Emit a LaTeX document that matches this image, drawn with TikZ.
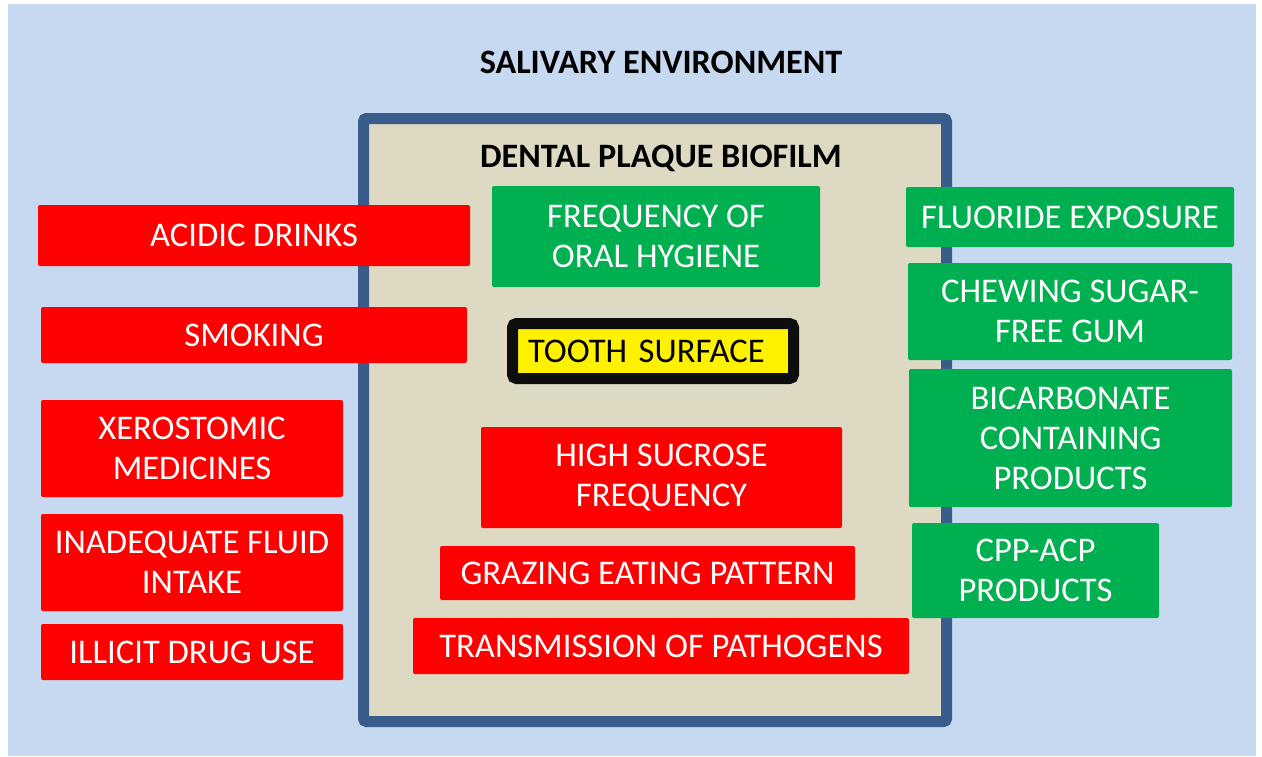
\documentclass[tikz,border=0pt]{standalone}
\usepackage{fontspec}
\setmainfont{Carlito}

\definecolor{salivablue}{HTML}{C6D9F1}
\definecolor{plaquefill}{HTML}{DDD9C3}
\definecolor{plaqueedge}{HTML}{385D8A}
\definecolor{riskred}{HTML}{FF0000}
\definecolor{protectgreen}{HTML}{00B050}

\tikzset{
  factor/.style={text=white, align=center, inner sep=0pt,
    font=\fontsize{17.3}{20}\selectfont, rounded corners=1pt},
  risk/.style={factor, fill=riskred},
  protect/.style={factor, fill=protectgreen},
  heading/.style={anchor=base, font=\bfseries\fontsize{17.1}{20}\selectfont}
}

\begin{document}
\begin{tikzpicture}[x=0.5pt, y=-0.5pt]
  \useasboundingbox (0,0) rectangle (1262,756);
  \fill[salivablue] (8,4) rectangle (1256,756);
  \node[heading] (saliva) at (661,73) {SALIVARY ENVIRONMENT};
  % biofilm frame
  \draw[plaqueedge, fill=plaquefill, line width=5.5pt, rounded corners=1.5pt]
    (363.5,118.5) rectangle (946.5,721.5);
  \node[heading] (biofilm) at (661,167) {DENTAL PLAQUE BIOFILM};
  \node[draw=black!95, fill=yellow, line width=5.5pt, rounded corners=2pt,
        minimum width=140.5pt, minimum height=27.5pt, inner xsep=0pt,
        text width=125pt, align=left, font=\fontsize{17.3}{20}\selectfont]
    (tooth) at (653,351) {TOOTH SURFACE};

  % risk factors
  \node[risk, minimum width=216pt, minimum height=30.5pt] (acidic) at (254,235.5) {ACIDIC DRINKS};
  \node[risk, minimum width=213pt, minimum height=28pt] (smoking) at (254,335) {SMOKING};
  \node[risk, minimum width=151pt, minimum height=48.5pt] (xero) at (192,448.5) {XEROSTOMIC\\MEDICINES};
  \node[risk, minimum width=151pt, minimum height=48.5pt] (fluid) at (192,562.5) {INADEQUATE FLUID\\INTAKE};
  \node[risk, minimum width=151pt, minimum height=28pt] (drugs) at (192,652) {ILLICIT DRUG USE};
  \node[risk, minimum width=180.5pt, minimum height=50.5pt] (sucrose) at (661.5,477.5) {HIGH SUCROSE\\FREQUENCY};
  \node[risk, minimum width=207.5pt, minimum height=27pt] (grazing) at (647.5,573) {GRAZING EATING PATTERN};
  \node[risk, minimum width=248pt, minimum height=28pt] (pathogens) at (661,646) {TRANSMISSION OF PATHOGENS};

  % protective factors
  \node[protect, minimum width=164pt, minimum height=50.5pt] (hygiene) at (656,236.5) {FREQUENCY OF\\ORAL HYGIENE};
  \node[protect, minimum width=164pt, minimum height=30pt] (fluoride) at (1070,217) {FLUORIDE EXPOSURE};
  \node[protect, minimum width=162pt, minimum height=48.5pt] (gum) at (1070,311.5) {CHEWING SUGAR-\\FREE GUM};
  \node[protect, minimum width=161.5pt, minimum height=69pt] (bicarb) at (1070.5,438) {BICARBONATE\\CONTAINING\\PRODUCTS};
  \node[protect, minimum width=123.5pt, minimum height=47.5pt] (cpp) at (1035.5,570.5) {CPP-ACP\\PRODUCTS};
\end{tikzpicture}
\end{document}
